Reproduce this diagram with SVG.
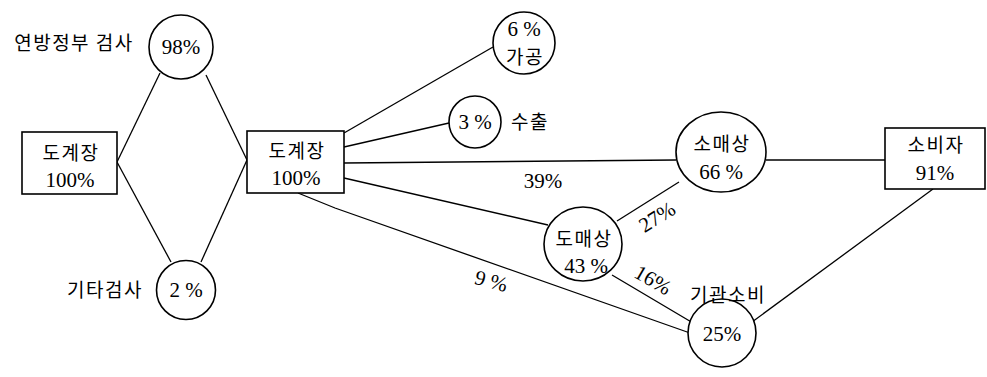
<svg xmlns="http://www.w3.org/2000/svg" width="987" height="377" viewBox="0 0 987 377">
<style>
.n{fill:#fff;stroke:#000;stroke-width:1.6}
.c line,.c path{stroke:#000;stroke-width:1.3;fill:none}
text{font-family:"Liberation Serif","Noto Sans CJK KR",serif;font-size:21px;fill:#000;text-anchor:middle}
.k{font-family:"Noto Sans CJK KR","Liberation Serif",sans-serif;font-size:19px;letter-spacing:1.5px}
</style>
<rect width="987" height="377" fill="#fff"/>
<g class="c" id="connectors">
<line x1="117" y1="162" x2="160" y2="73"/>
<line x1="117" y1="162" x2="171" y2="262"/>
<line x1="206" y1="75" x2="247" y2="160"/>
<line x1="201" y1="262" x2="247" y2="160"/>
<line x1="344" y1="133" x2="493" y2="47"/>
<line x1="344" y1="147" x2="449" y2="123"/>
<line x1="344" y1="163" x2="676" y2="160"/>
<line x1="344" y1="178" x2="548" y2="225"/>
<path d="M298,193 L335,208 L690,333"/>
<line x1="617" y1="221" x2="679" y2="182"/>
<line x1="612" y1="275" x2="693" y2="323"/>
<line x1="766" y1="160" x2="885" y2="160"/>
<line x1="933" y1="189" x2="752" y2="322"/>
</g>
<g id="label-fed"><text class="k" x="74" y="50">연방정부  검사</text></g>
<g id="n98"><circle class="n" cx="181" cy="47" r="32"/><text x="181" y="54">98%</text></g>
<g id="label-other"><text class="k" x="105" y="297">기타검사</text></g>
<g id="n2"><circle class="n" cx="186" cy="290" r="29.5"/><text x="186" y="297">2 %</text></g>
<g id="slaughter1"><rect class="n" x="22" y="132" width="95" height="62"/><text class="k" x="71" y="160">도계장</text><text x="70" y="187">100%</text></g>
<g id="slaughter2"><rect class="n" x="247" y="131" width="97" height="62"/><text class="k" x="297" y="158">도계장</text><text x="296" y="185">100%</text></g>
<g id="n6"><circle class="n" cx="524" cy="43" r="31"/><text x="524" y="36">6 %</text><text class="k" x="525" y="64">가공</text></g>
<g id="n3"><circle class="n" cx="475" cy="122" r="26"/><text x="475" y="129">3 %</text></g>
<g id="label-export"><text class="k" x="530" y="129">수출</text></g>
<g id="retail"><ellipse class="n" cx="721" cy="152" rx="45" ry="40"/><text class="k" x="722" y="151">소매상</text><text x="721" y="179">66 %</text></g>
<g id="consumer"><rect class="n" x="885" y="128" width="100" height="61"/><text class="k" x="936" y="152">소비자</text><text x="935" y="180">91%</text></g>
<g id="wholesale"><ellipse class="n" cx="583" cy="244" rx="39" ry="37"/><text class="k" x="584" y="246">도매상</text><text x="586" y="273">43 %</text></g>
<g id="n25"><circle class="n" cx="722" cy="333" r="34"/><text x="722" y="341">25%</text></g>
<g id="label-inst"><text class="k" x="728" y="302">기관소비</text></g>
<g id="edge-labels">
<text x="543" y="188">39%</text>
<text x="491" y="288" transform="rotate(15 491 282)">9 %</text>
<text x="657" y="224" transform="rotate(-32 657 217)">27%</text>
<text x="653" y="287" transform="rotate(30 653 280)">16%</text>
</g>
</svg>
